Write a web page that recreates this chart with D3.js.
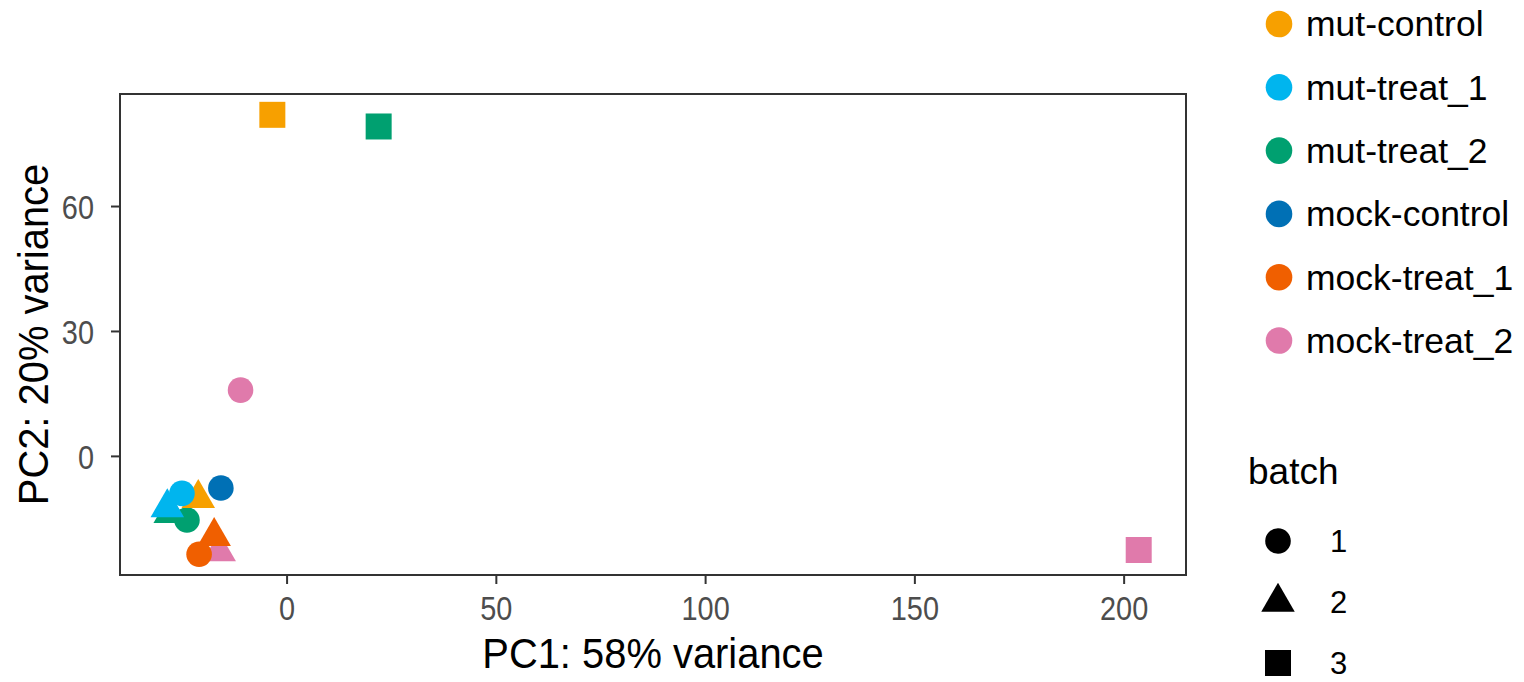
<!DOCTYPE html>
<html>
<head>
<meta charset="utf-8">
<script src="https://cdn.jsdelivr.net/npm/d3@7"></script>
<style>
  html, body { margin: 0; padding: 0; background: #fff; }
  svg { display: block; font-family: "Liberation Sans", Arial, Helvetica, sans-serif; }
</style>
</head>
<body>
<svg id="chart" width="1524" height="682"></svg>
<script>
// PCA of samples: condition (colour) and batch (shape)
const conditions = ["mut-control", "mut-treat_1", "mut-treat_2", "mock-control", "mock-treat_1", "mock-treat_2"];
const conditionColors = ["#F7A000", "#00B5EE", "#00A070", "#0070B5", "#F05F00", "#E07AAB"];
const batches = ["1", "2", "3"];

// one entry per sample, listed in drawing order
const sampleCondition = ["mock-treat_2", "mut-treat_2", "mut-treat_2", "mut-treat_1", "mut-control", "mut-treat_1",
                         "mock-control", "mock-treat_1", "mock-treat_1", "mock-treat_2",
                         "mut-control", "mut-treat_2", "mock-treat_2"];
const sampleBatch = ["2", "2", "1", "2", "2", "1",
                     "1", "2", "1", "1",
                     "3", "3", "3"];
const pc1 = [-16.1, -27.8, -23.8, -28.5, -21.1, -25.0, -15.7, -17.3, -20.9, -11.0, -3.4, 22.0, 203.6];
const pc2 = [-23.0, -13.8, -15.4, -12.4, -10.2, -9.0, -7.7, -19.3, -23.6, 15.8, 81.9, 79.1, -22.6];

const xTicks = [0, 50, 100, 150, 200];
const yTicks = [0, 30, 60];
const xTitle = "PC1: 58% variance";
const yTitle = "PC2: 20% variance";
const batchTitle = "batch";

const svg = d3.select("#chart");

const panel = { left: 120, right: 1186, top: 94, bottom: 575 };

const x = d3.scaleLinear().domain([-39.8, 214.9]).range([panel.left, panel.right]);
const y = d3.scaleLinear().domain([-28.6, 86.9]).range([panel.bottom, panel.top]);

const color = d3.scaleOrdinal().domain(conditions).range(conditionColors);
const shape = d3.scaleOrdinal().domain(batches).range([d3.symbolCircle, d3.symbolTriangle, d3.symbolSquare]);
const shapeSize = d3.scaleOrdinal().domain(batches).range([Math.PI * 12.8 * 12.8, 486, 676]);
const symbolPath = b => d3.symbol().type(shape(b)).size(shapeSize(b))();

// the typeface is slightly condensed: squeeze glyphs horizontally
const tickSquash = 0.85;
const titleSquash = 0.95;

// axes
const xAxis = svg.append("g")
  .attr("transform", `translate(0,${panel.bottom})`)
  .call(d3.axisBottom(x).tickValues(xTicks).tickSize(9).tickPadding(9).tickFormat(d3.format("d")));
const yAxis = svg.append("g")
  .attr("transform", `translate(${panel.left},0)`)
  .call(d3.axisLeft(y).tickValues(yTicks).tickSize(9).tickPadding(9).tickFormat(d3.format("d")));

[xAxis, yAxis].forEach(g => {
  g.select(".domain").remove();
  g.selectAll(".tick line").attr("stroke", "#333").attr("stroke-width", 2);
  g.selectAll(".tick text").attr("fill", "#4D4D4D").style("font-size", "34px")
    .style("font-family", "\"Liberation Sans\", Arial, sans-serif")
    .attr("transform", `scale(${tickSquash},1)`);
});
xAxis.selectAll(".tick text").attr("dy", "0.78em");
yAxis.selectAll(".tick text").attr("x", -26 / tickSquash).attr("dy", "0.36em");

// points
const samples = d3.range(pc1.length);
svg.append("g").selectAll("path")
  .data(samples)
  .join("path")
  .attr("transform", i => `translate(${x(pc1[i])},${y(pc2[i])})`)
  .attr("d", i => symbolPath(sampleBatch[i]))
  .attr("fill", i => color(sampleCondition[i]));

// panel border
svg.append("rect")
  .attr("x", panel.left).attr("y", panel.top)
  .attr("width", panel.right - panel.left).attr("height", panel.bottom - panel.top)
  .attr("fill", "none").attr("stroke", "#333").attr("stroke-width", 2);

// axis titles
svg.append("text")
  .attr("transform", `translate(${(panel.left + panel.right) / 2},668) scale(${titleSquash},1)`)
  .attr("text-anchor", "middle").style("font-size", "42px").attr("fill", "#000")
  .text(xTitle);
svg.append("text")
  .attr("transform", `translate(48,${(panel.top + panel.bottom) / 2}) rotate(-90) scale(${titleSquash},1)`)
  .attr("text-anchor", "middle").style("font-size", "42px").attr("fill", "#000")
  .text(yTitle);

// condition legend
const colLegend = svg.append("g").selectAll("g")
  .data(conditions)
  .join("g")
  .attr("transform", (d, i) => `translate(1279,${24 + i * 63.3})`);
colLegend.append("circle").attr("r", 13.3).attr("fill", d => color(d));
colLegend.append("text")
  .attr("x", 27).attr("dy", "0.35em")
  .style("font-size", "35.5px").attr("fill", "#000")
  .text(d => d);

// batch legend
svg.append("text")
  .attr("x", 1248).attr("y", 484)
  .style("font-size", "37px").attr("fill", "#000")
  .text(batchTitle);
const shpLegend = svg.append("g").selectAll("g")
  .data(batches)
  .join("g")
  .attr("transform", (d, i) => `translate(1278,${541 + i * 61})`);
shpLegend.append("path").attr("d", d => symbolPath(d)).attr("fill", "#000");
shpLegend.append("text")
  .attr("x", 52).attr("dy", "0.36em")
  .style("font-size", "31px").attr("fill", "#000")
  .text(d => d);
</script>
</body>
</html>
